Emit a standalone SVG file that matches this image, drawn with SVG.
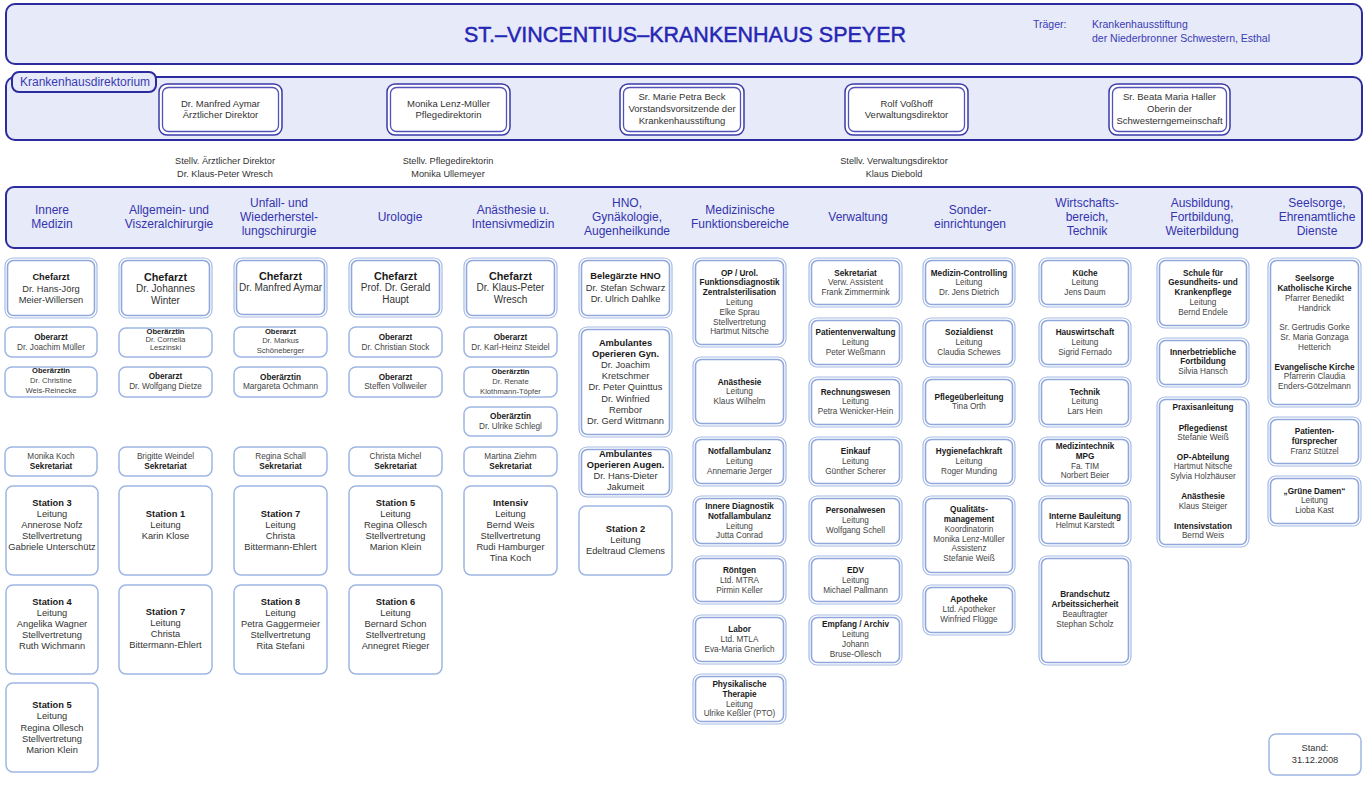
<svg xmlns="http://www.w3.org/2000/svg" width="1367" height="787" viewBox="0 0 1367 787">
<style>
text{font-family:"Liberation Sans",Arial,Helvetica,sans-serif;text-anchor:middle}
.l{text-anchor:start}
.t1{font-size:21.5px;fill:#2626b4;stroke:#2626b4;stroke-width:0.45}
.tr{font-size:10.5px;fill:#3a3ab4}
.tab{font-size:12px;fill:#3a3ab4}
.dir{font-size:9.5px;fill:#333}
.st{font-size:9.2px;fill:#333}
.hd{font-size:12px;fill:#3434ae}
.m{font-size:9.3px;fill:#333}
.ch{font-size:10px;fill:#333}
.k{font-size:8.2px;fill:#444}
.q{font-size:7.6px;fill:#444}
.b{font-weight:bold;fill:#1a1a1a}
.big{font-size:10.8px}
.bg{fill:#e7eaf8;stroke:#2c2c9e;stroke-width:2}
.bx{fill:#fff;stroke:#9fb6e4;stroke-width:1.5}
.bo{fill:#fff;stroke:#a6bbe6;stroke-width:1.2}
.bi{fill:none;stroke:#8fa7db;stroke-width:1.6}
.do{fill:#fff;stroke:#3a3aa6;stroke-width:1.5}
.di{fill:none;stroke:#5252b8;stroke-width:1.3}
</style>
<rect width="1367" height="787" fill="#fff"/>

<g id="title">
<rect class="bg" x="6" y="4" width="1356" height="60" rx="9"/>
<text class="t1" x="685" y="42">ST.–VINCENTIUS–KRANKENHAUS SPEYER</text>
<text class="tr l" x="1033" y="28">Träger:</text>
<text class="tr l" x="1092" y="28">Krankenhausstiftung</text>
<text class="tr l" x="1092" y="42">der Niederbronner Schwestern, Esthal</text>
</g>

<g id="direktorium">
<rect class="bg" x="6" y="77" width="1356" height="63" rx="9"/>
<rect class="bg" x="12" y="72" width="144" height="20" rx="7"/>
<text class="tab l" x="20" y="86">Krankenhausdirektorium</text>
</g>

<g id="dir-aymar">
<rect class="do" x="159" y="84" width="123" height="51" rx="8"/><rect class="di" x="162.5" y="87.5" width="116" height="44" rx="6"/>
<text class="dir" x="220.5" y="106.5">Dr. Manfred Aymar</text>
<text class="dir" x="220.5" y="118.3">Ärztlicher Direktor</text>
</g>
<g id="dir-lenz">
<rect class="do" x="387" y="84" width="123" height="51" rx="8"/><rect class="di" x="390.5" y="87.5" width="116" height="44" rx="6"/>
<text class="dir" x="448.5" y="106.5">Monika Lenz-Müller</text>
<text class="dir" x="448.5" y="118.3">Pflegedirektorin</text>
</g>
<g id="dir-beck">
<rect class="do" x="620" y="84" width="124" height="51" rx="8"/><rect class="di" x="623.5" y="87.5" width="117" height="44" rx="6"/>
<text class="dir" x="682" y="100">Sr. Marie Petra Beck</text>
<text class="dir" x="682" y="112">Vorstandsvorsitzende der</text>
<text class="dir" x="682" y="124">Krankenhausstiftung</text>
</g>
<g id="dir-vosshoff">
<rect class="do" x="845" y="84" width="123" height="51" rx="8"/><rect class="di" x="848.5" y="87.5" width="116" height="44" rx="6"/>
<text class="dir" x="906.5" y="106.5">Rolf Voßhoff</text>
<text class="dir" x="906.5" y="118.3">Verwaltungsdirektor</text>
</g>
<g id="dir-haller">
<rect class="do" x="1109" y="84" width="121" height="51" rx="8"/><rect class="di" x="1112.5" y="87.5" width="114" height="44" rx="6"/>
<text class="dir" x="1169.5" y="100">Sr. Beata Maria Haller</text>
<text class="dir" x="1169.5" y="112">Oberin der</text>
<text class="dir" x="1169.5" y="124">Schwesterngemeinschaft</text>
</g>

<g id="stellvertreter">
<text class="st" x="225" y="164">Stellv. Ärztlicher Direktor</text>
<text class="st" x="225" y="176.5">Dr. Klaus-Peter Wresch</text>
<text class="st" x="448" y="164">Stellv. Pflegedirektorin</text>
<text class="st" x="448" y="176.5">Monika Ullemeyer</text>
<text class="st" x="894" y="164">Stellv. Verwaltungsdirektor</text>
<text class="st" x="894" y="176.5">Klaus Diebold</text>
</g>

<g id="bereiche">
<rect class="bg" x="6" y="187" width="1356" height="61" rx="8"/>
<text class="hd" x="52" y="214.2">Innere</text><text class="hd" x="52" y="228.2">Medizin</text>
<text class="hd" x="169" y="214.2">Allgemein- und</text><text class="hd" x="169" y="228.2">Viszeralchirurgie</text>
<text class="hd" x="279" y="207.2">Unfall- und</text><text class="hd" x="279" y="221.2">Wiederherstel-</text><text class="hd" x="279" y="235.2">lungschirurgie</text>
<text class="hd" x="400" y="221.2">Urologie</text>
<text class="hd" x="513" y="214.2">Anästhesie u.</text><text class="hd" x="513" y="228.2">Intensivmedizin</text>
<text class="hd" x="627" y="207.2">HNO,</text><text class="hd" x="627" y="221.2">Gynäkologie,</text><text class="hd" x="627" y="235.2">Augenheilkunde</text>
<text class="hd" x="740" y="214.2">Medizinische</text><text class="hd" x="740" y="228.2">Funktionsbereiche</text>
<text class="hd" x="858" y="221.2">Verwaltung</text>
<text class="hd" x="970" y="214.2">Sonder-</text><text class="hd" x="970" y="228.2">einrichtungen</text>
<text class="hd" x="1087" y="207.2">Wirtschafts-</text><text class="hd" x="1087" y="221.2">bereich,</text><text class="hd" x="1087" y="235.2">Technik</text>
<text class="hd" x="1202" y="207.2">Ausbildung,</text><text class="hd" x="1202" y="221.2">Fortbildung,</text><text class="hd" x="1202" y="235.2">Weiterbildung</text>
<text class="hd" x="1317" y="207.2">Seelsorge,</text><text class="hd" x="1317" y="221.2">Ehrenamtliche</text><text class="hd" x="1317" y="235.2">Dienste</text>
</g>

<g id="connectors"/>

<!-- Column 1: Innere Medizin -->
<g id="im-chefarzt">
<rect class="bo" x="5" y="258" width="92" height="60" rx="8"/><rect class="bi" x="7.5" y="260.5" width="87" height="55" rx="6"/>
<text class="m b" x="51" y="280">Chefarzt</text><text class="m" x="51" y="291.6">Dr. Hans-Jörg</text><text class="m" x="51" y="303.3">Meier-Willersen</text>
</g>
<g id="im-oa1"><rect class="bx" x="5" y="327" width="92" height="30" rx="7"/>
<text class="k b" x="51" y="340.2">Oberarzt</text><text class="k" x="51" y="349.8">Dr. Joachim Müller</text></g>
<g id="im-oa2"><rect class="bx" x="5" y="367" width="92" height="30" rx="7"/>
<text class="q b" x="51" y="373.4">Oberärztin</text><text class="q" x="51" y="383.4">Dr. Christine</text><text class="q" x="51" y="393.4">Weis-Reinecke</text></g>
<g id="im-sek"><rect class="bx" x="5" y="447" width="92" height="29" rx="7"/>
<text class="k" x="51" y="458.6">Monika Koch</text><text class="k b" x="51" y="468.6">Sekretariat</text></g>
<g id="im-st3"><rect class="bx" x="6" y="486" width="92" height="89" rx="7"/>
<text class="m b" x="52" y="505.6">Station 3</text><text class="m" x="52" y="516.7">Leitung</text><text class="m" x="52" y="527.8">Annerose Nofz</text><text class="m" x="52" y="538.9">Stellvertretung</text><text class="m" x="52" y="550">Gabriele Unterschütz</text></g>
<g id="im-st4"><rect class="bx" x="6" y="585" width="92" height="89" rx="7"/>
<text class="m b" x="52" y="605">Station 4</text><text class="m" x="52" y="616.1">Leitung</text><text class="m" x="52" y="627.2">Angelika Wagner</text><text class="m" x="52" y="638.3">Stellvertretung</text><text class="m" x="52" y="649.4">Ruth Wichmann</text></g>
<g id="im-st5"><rect class="bx" x="6" y="683" width="92" height="89" rx="7"/>
<text class="m b" x="52" y="708.3">Station 5</text><text class="m" x="52" y="719.4">Leitung</text><text class="m" x="52" y="730.5">Regina Ollesch</text><text class="m" x="52" y="741.6">Stellvertretung</text><text class="m" x="52" y="752.7">Marion Klein</text></g>

<!-- Column 2 -->
<g id="av-chefarzt">
<rect class="bo" x="119" y="258" width="93" height="60" rx="8"/><rect class="bi" x="121.5" y="260.5" width="88" height="55" rx="6"/>
<text class="ch b big" x="165.5" y="280.5">Chefarzt</text><text class="ch" x="165.5" y="291.9">Dr. Johannes</text><text class="ch" x="165.5" y="303.5">Winter</text>
</g>
<g id="av-oa1"><rect class="bx" x="119" y="328" width="93" height="29" rx="7"/>
<text class="q b" x="165.5" y="334.4">Oberärztin</text><text class="q" x="165.5" y="342.4">Dr. Cornelia</text><text class="q" x="165.5" y="350.4">Leszinski</text></g>
<g id="av-oa2"><rect class="bx" x="119" y="367" width="93" height="30" rx="7"/>
<text class="k b" x="165.5" y="379">Oberarzt</text><text class="k" x="165.5" y="389">Dr. Wolfgang Dietze</text></g>
<g id="av-sek"><rect class="bx" x="119" y="447" width="93" height="29" rx="7"/>
<text class="k" x="165.5" y="458.6">Brigitte Weindel</text><text class="k b" x="165.5" y="468.6">Sekretariat</text></g>
<g id="av-st1"><rect class="bx" x="119" y="486" width="93" height="89" rx="7"/>
<text class="m b" x="165.5" y="516.6">Station 1</text><text class="m" x="165.5" y="527.7">Leitung</text><text class="m" x="165.5" y="538.8">Karin Klose</text></g>
<g id="av-st7"><rect class="bx" x="119" y="585" width="93" height="89" rx="7"/>
<text class="m b" x="165.5" y="615">Station 7</text><text class="m" x="165.5" y="626.1">Leitung</text><text class="m" x="165.5" y="637.2">Christa</text><text class="m" x="165.5" y="648.3">Bittermann-Ehlert</text></g>

<!-- Column 3 -->
<g id="uw-chefarzt">
<rect class="bo" x="234" y="258" width="93" height="59" rx="8"/><rect class="bi" x="236.5" y="260.5" width="88" height="54" rx="6"/>
<text class="ch b big" x="280.5" y="279.8">Chefarzt</text><text class="ch" x="280.5" y="291">Dr. Manfred Aymar</text>
</g>
<g id="uw-oa1"><rect class="bx" x="234" y="327" width="93" height="30" rx="7"/>
<text class="q b" x="280.5" y="333.7">Oberarzt</text><text class="q" x="280.5" y="343.2">Dr. Markus</text><text class="q" x="280.5" y="352.5">Schöneberger</text></g>
<g id="uw-oa2"><rect class="bx" x="234" y="367" width="93" height="30" rx="7"/>
<text class="k b" x="280.5" y="379.6">Oberärztin</text><text class="k" x="280.5" y="389.2">Margareta Ochmann</text></g>
<g id="uw-sek"><rect class="bx" x="234" y="447" width="93" height="29" rx="7"/>
<text class="k" x="280.5" y="458.6">Regina Schall</text><text class="k b" x="280.5" y="468.6">Sekretariat</text></g>
<g id="uw-st7"><rect class="bx" x="234" y="486" width="93" height="89" rx="7"/>
<text class="m b" x="280.5" y="516.6">Station 7</text><text class="m" x="280.5" y="527.7">Leitung</text><text class="m" x="280.5" y="538.8">Christa</text><text class="m" x="280.5" y="549.9">Bittermann-Ehlert</text></g>
<g id="uw-st8"><rect class="bx" x="234" y="585" width="93" height="89" rx="7"/>
<text class="m b" x="280.5" y="605">Station 8</text><text class="m" x="280.5" y="616.1">Leitung</text><text class="m" x="280.5" y="627.2">Petra Gaggermeier</text><text class="m" x="280.5" y="638.3">Stellvertretung</text><text class="m" x="280.5" y="649.4">Rita Stefani</text></g>

<!-- Column 4 -->
<g id="uro-chefarzt">
<rect class="bo" x="349" y="258" width="93" height="59" rx="8"/><rect class="bi" x="351.5" y="260.5" width="88" height="54" rx="6"/>
<text class="ch b big" x="395.5" y="279.8">Chefarzt</text><text class="ch" x="395.5" y="291">Prof. Dr. Gerald</text><text class="ch" x="395.5" y="302.5">Haupt</text>
</g>
<g id="uro-oa1"><rect class="bx" x="349" y="327" width="93" height="30" rx="7"/>
<text class="k b" x="395.5" y="340.2">Oberarzt</text><text class="k" x="395.5" y="350">Dr. Christian Stock</text></g>
<g id="uro-oa2"><rect class="bx" x="349" y="367" width="93" height="30" rx="7"/>
<text class="k b" x="395.5" y="379.6">Oberarzt</text><text class="k" x="395.5" y="389.2">Steffen Vollweiler</text></g>
<g id="uro-sek"><rect class="bx" x="349" y="447" width="93" height="29" rx="7"/>
<text class="k" x="395.5" y="458.6">Christa Michel</text><text class="k b" x="395.5" y="468.6">Sekretariat</text></g>
<g id="uro-st5"><rect class="bx" x="349" y="486" width="93" height="89" rx="7"/>
<text class="m b" x="395.5" y="505.6">Station 5</text><text class="m" x="395.5" y="516.7">Leitung</text><text class="m" x="395.5" y="527.8">Regina Ollesch</text><text class="m" x="395.5" y="538.9">Stellvertretung</text><text class="m" x="395.5" y="550">Marion Klein</text></g>
<g id="uro-st6"><rect class="bx" x="349" y="585" width="93" height="89" rx="7"/>
<text class="m b" x="395.5" y="605">Station 6</text><text class="m" x="395.5" y="616.1">Leitung</text><text class="m" x="395.5" y="627.2">Bernard Schon</text><text class="m" x="395.5" y="638.3">Stellvertretung</text><text class="m" x="395.5" y="649.4">Annegret Rieger</text></g>

<!-- Column 5 -->
<g id="an-chefarzt">
<rect class="bo" x="464" y="258" width="93" height="60" rx="8"/><rect class="bi" x="466.5" y="260.5" width="88" height="55" rx="6"/>
<text class="ch b big" x="510.5" y="279.8">Chefarzt</text><text class="ch" x="510.5" y="291">Dr. Klaus-Peter</text><text class="ch" x="510.5" y="302.5">Wresch</text>
</g>
<g id="an-oa1"><rect class="bx" x="464" y="327" width="93" height="30" rx="7"/>
<text class="k b" x="510.5" y="340.2">Oberarzt</text><text class="k" x="510.5" y="350">Dr. Karl-Heinz Steidel</text></g>
<g id="an-oa2"><rect class="bx" x="464" y="367" width="93" height="30" rx="7"/>
<text class="q b" x="510.5" y="374.2">Oberärztin</text><text class="q" x="510.5" y="384.2">Dr. Renate</text><text class="q" x="510.5" y="394.2">Klothmann-Töpfer</text></g>
<g id="an-oa3"><rect class="bx" x="464" y="407" width="93" height="29" rx="7"/>
<text class="k b" x="510.5" y="419">Oberärztin</text><text class="k" x="510.5" y="429">Dr. Ulrike Schlegl</text></g>
<g id="an-sek"><rect class="bx" x="464" y="447" width="93" height="29" rx="7"/>
<text class="k" x="510.5" y="458.6">Martina Ziehm</text><text class="k b" x="510.5" y="468.6">Sekretariat</text></g>
<g id="an-intensiv"><rect class="bx" x="464" y="486" width="93" height="89" rx="7"/>
<text class="m b" x="510.5" y="505.6">Intensiv</text><text class="m" x="510.5" y="516.7">Leitung</text><text class="m" x="510.5" y="527.8">Bernd Weis</text><text class="m" x="510.5" y="538.9">Stellvertretung</text><text class="m" x="510.5" y="550">Rudi Hamburger</text><text class="m" x="510.5" y="561.1">Tina Koch</text></g>

<!-- Column 6 -->
<g id="hno-beleg">
<rect class="bo" x="579" y="258" width="93" height="60" rx="8"/><rect class="bi" x="581.5" y="260.5" width="88" height="55" rx="6"/>
<text class="m b" x="625.5" y="279.3">Belegärzte HNO</text><text class="m" x="625.5" y="291">Dr. Stefan Schwarz</text><text class="m" x="625.5" y="302.3">Dr. Ulrich Dahlke</text>
</g>
<g id="hno-gyn">
<rect class="bo" x="579" y="327" width="93" height="110" rx="8"/><rect class="bi" x="581.5" y="329.5" width="88" height="105" rx="6"/>
<text class="m b" x="625.5" y="345.6">Ambulantes</text><text class="m b" x="625.5" y="356.8">Operieren Gyn.</text><text class="m" x="625.5" y="368">Dr. Joachim</text><text class="m" x="625.5" y="379.2">Kretschmer</text><text class="m" x="625.5" y="390.4">Dr. Peter Quinttus</text><text class="m" x="625.5" y="401.6">Dr. Winfried</text><text class="m" x="625.5" y="412.8">Rembor</text><text class="m" x="625.5" y="424">Dr. Gerd Wittmann</text>
</g>
<g id="hno-augen">
<rect class="bo" x="579" y="447" width="93" height="50" rx="8"/><rect class="bi" x="581.5" y="449.5" width="88" height="45" rx="6"/>
<text class="m b" x="625.5" y="456.6">Ambulantes</text><text class="m b" x="625.5" y="467.8">Operieren Augen.</text><text class="m" x="625.5" y="479">Dr. Hans-Dieter</text><text class="m" x="625.5" y="490.2">Jakumeit</text>
</g>
<g id="hno-st2"><rect class="bx" x="579" y="506" width="93" height="69" rx="7"/>
<text class="m b" x="625.5" y="531.6">Station 2</text><text class="m" x="625.5" y="542.7">Leitung</text><text class="m" x="625.5" y="553.8">Edeltraud Clemens</text></g>

<!-- Column 7 -->
<g id="mf-op">
<rect class="bo" x="693" y="258" width="93" height="89" rx="8"/><rect class="bi" x="695.5" y="260.5" width="88" height="84" rx="6"/>
<text class="k b" x="739.5" y="275.6">OP / Urol.</text><text class="k b" x="739.5" y="285.4">Funktionsdiagnostik</text><text class="k b" x="739.5" y="295.2">Zentralsterilisation</text><text class="k" x="739.5" y="305">Leitung</text><text class="k" x="739.5" y="314.8">Elke Sprau</text><text class="k" x="739.5" y="324.6">Stellvertretung</text><text class="k" x="739.5" y="334.4">Hartmut Nitsche</text>
</g>
<g id="mf-anaesthesie">
<rect class="bo" x="693" y="357" width="93" height="69" rx="8"/><rect class="bi" x="695.5" y="359.5" width="88" height="64" rx="6"/>
<text class="k b" x="739.5" y="384.6">Anästhesie</text><text class="k" x="739.5" y="394.4">Leitung</text><text class="k" x="739.5" y="404.2">Klaus Wilhelm</text>
</g>
<g id="mf-notfall">
<rect class="bo" x="693" y="437" width="93" height="49" rx="8"/><rect class="bi" x="695.5" y="439.5" width="88" height="44" rx="6"/>
<text class="k b" x="739.5" y="453.9">Notfallambulanz</text><text class="k" x="739.5" y="463.7">Leitung</text><text class="k" x="739.5" y="473.5">Annemarie Jerger</text>
</g>
<g id="mf-innere">
<rect class="bo" x="693" y="496" width="93" height="50" rx="8"/><rect class="bi" x="695.5" y="498.5" width="88" height="45" rx="6"/>
<text class="k b" x="739.5" y="508.9">Innere Diagnostik</text><text class="k b" x="739.5" y="518.7">Notfallambulanz</text><text class="k" x="739.5" y="528.5">Leitung</text><text class="k" x="739.5" y="538.3">Jutta Conrad</text>
</g>
<g id="mf-roentgen">
<rect class="bo" x="693" y="556" width="93" height="48" rx="8"/><rect class="bi" x="695.5" y="558.5" width="88" height="43" rx="6"/>
<text class="k b" x="739.5" y="572.9">Röntgen</text><text class="k" x="739.5" y="582.7">Ltd. MTRA</text><text class="k" x="739.5" y="592.5">Pirmin Keller</text>
</g>
<g id="mf-labor">
<rect class="bo" x="693" y="615" width="93" height="49" rx="8"/><rect class="bi" x="695.5" y="617.5" width="88" height="44" rx="6"/>
<text class="k b" x="739.5" y="632.2">Labor</text><text class="k" x="739.5" y="642">Ltd. MTLA</text><text class="k" x="739.5" y="651.8">Eva-Maria Gnerlich</text>
</g>
<g id="mf-physio">
<rect class="bo" x="693" y="674" width="93" height="50" rx="8"/><rect class="bi" x="695.5" y="676.5" width="88" height="45" rx="6"/>
<text class="k b" x="739.5" y="686.9">Physikalische</text><text class="k b" x="739.5" y="696.7">Therapie</text><text class="k" x="739.5" y="706.5">Leitung</text><text class="k" x="739.5" y="716.3">Ulrike Keßler (PTO)</text>
</g>

<!-- Column 8 -->
<g id="vw-sek">
<rect class="bo" x="809" y="258" width="93" height="49" rx="8"/><rect class="bi" x="811.5" y="260.5" width="88" height="44" rx="6"/>
<text class="k b" x="855.5" y="275.6">Sekretariat</text><text class="k" x="855.5" y="285.4">Verw. Assistent</text><text class="k" x="855.5" y="295.2">Frank Zimmermink</text>
</g>
<g id="vw-patient">
<rect class="bo" x="809" y="318" width="93" height="49" rx="8"/><rect class="bi" x="811.5" y="320.5" width="88" height="44" rx="6"/>
<text class="k b" x="855.5" y="335.2">Patientenverwaltung</text><text class="k" x="855.5" y="345">Leitung</text><text class="k" x="855.5" y="354.8">Peter Weßmann</text>
</g>
<g id="vw-rechnung">
<rect class="bo" x="809" y="377" width="93" height="50" rx="8"/><rect class="bi" x="811.5" y="379.5" width="88" height="45" rx="6"/>
<text class="k b" x="855.5" y="394.6">Rechnungswesen</text><text class="k" x="855.5" y="404.4">Leitung</text><text class="k" x="855.5" y="414.2">Petra Wenicker-Hein</text>
</g>
<g id="vw-einkauf">
<rect class="bo" x="809" y="437" width="93" height="49" rx="8"/><rect class="bi" x="811.5" y="439.5" width="88" height="44" rx="6"/>
<text class="k b" x="855.5" y="453.9">Einkauf</text><text class="k" x="855.5" y="463.7">Leitung</text><text class="k" x="855.5" y="473.5">Günther Scherer</text>
</g>
<g id="vw-personal">
<rect class="bo" x="809" y="496" width="93" height="50" rx="8"/><rect class="bi" x="811.5" y="498.5" width="88" height="45" rx="6"/>
<text class="k b" x="855.5" y="513.2">Personalwesen</text><text class="k" x="855.5" y="523">Leitung</text><text class="k" x="855.5" y="532.8">Wolfgang Schell</text>
</g>
<g id="vw-edv">
<rect class="bo" x="809" y="556" width="93" height="48" rx="8"/><rect class="bi" x="811.5" y="558.5" width="88" height="43" rx="6"/>
<text class="k b" x="855.5" y="572.9">EDV</text><text class="k" x="855.5" y="582.7">Leitung</text><text class="k" x="855.5" y="592.5">Michael Pallmann</text>
</g>
<g id="vw-empfang">
<rect class="bo" x="809" y="615" width="93" height="50" rx="8"/><rect class="bi" x="811.5" y="617.5" width="88" height="45" rx="6"/>
<text class="k b" x="855.5" y="627.2">Empfang / Archiv</text><text class="k" x="855.5" y="637">Leitung</text><text class="k" x="855.5" y="646.8">Johann</text><text class="k" x="855.5" y="656.6">Bruse-Ollesch</text>
</g>

<!-- Column 9 -->
<g id="se-controlling">
<rect class="bo" x="923" y="258" width="92" height="49" rx="8"/><rect class="bi" x="925.5" y="260.5" width="87" height="44" rx="6"/>
<text class="k b" x="969" y="275.6">Medizin-Controlling</text><text class="k" x="969" y="285.4">Leitung</text><text class="k" x="969" y="295.2">Dr. Jens Dietrich</text>
</g>
<g id="se-sozial">
<rect class="bo" x="923" y="318" width="92" height="49" rx="8"/><rect class="bi" x="925.5" y="320.5" width="87" height="44" rx="6"/>
<text class="k b" x="969" y="335.2">Sozialdienst</text><text class="k" x="969" y="345">Leitung</text><text class="k" x="969" y="354.8">Claudia Schewes</text>
</g>
<g id="se-pflege">
<rect class="bo" x="923" y="377" width="92" height="50" rx="8"/><rect class="bi" x="925.5" y="379.5" width="87" height="45" rx="6"/>
<text class="k b" x="969" y="399.6">Pflegeüberleitung</text><text class="k" x="969" y="409.4">Tina Orth</text>
</g>
<g id="se-hygiene">
<rect class="bo" x="923" y="437" width="92" height="49" rx="8"/><rect class="bi" x="925.5" y="439.5" width="87" height="44" rx="6"/>
<text class="k b" x="969" y="453.9">Hygienefachkraft</text><text class="k" x="969" y="463.7">Leitung</text><text class="k" x="969" y="473.5">Roger Munding</text>
</g>
<g id="se-qm">
<rect class="bo" x="923" y="496" width="92" height="79" rx="8"/><rect class="bi" x="925.5" y="498.5" width="87" height="74" rx="6"/>
<text class="k b" x="969" y="512.2">Qualitäts-</text><text class="k b" x="969" y="522">management</text><text class="k" x="969" y="531.8">Koordinatorin</text><text class="k" x="969" y="541.6">Monika Lenz-Müller</text><text class="k" x="969" y="551.4">Assistenz</text><text class="k" x="969" y="561.2">Stefanie Weiß</text>
</g>
<g id="se-apotheke">
<rect class="bo" x="923" y="585" width="92" height="50" rx="8"/><rect class="bi" x="925.5" y="587.5" width="87" height="45" rx="6"/>
<text class="k b" x="969" y="602.2">Apotheke</text><text class="k" x="969" y="612">Ltd. Apotheker</text><text class="k" x="969" y="621.8">Winfried Flügge</text>
</g>

<!-- Column 10 -->
<g id="wt-kueche">
<rect class="bo" x="1039" y="258" width="92" height="49" rx="8"/><rect class="bi" x="1041.5" y="260.5" width="87" height="44" rx="6"/>
<text class="k b" x="1085" y="275.6">Küche</text><text class="k" x="1085" y="285.4">Leitung</text><text class="k" x="1085" y="295.2">Jens Daum</text>
</g>
<g id="wt-haus">
<rect class="bo" x="1039" y="318" width="92" height="49" rx="8"/><rect class="bi" x="1041.5" y="320.5" width="87" height="44" rx="6"/>
<text class="k b" x="1085" y="335.2">Hauswirtschaft</text><text class="k" x="1085" y="345">Leitung</text><text class="k" x="1085" y="354.8">Sigrid Fernado</text>
</g>
<g id="wt-technik">
<rect class="bo" x="1039" y="377" width="92" height="50" rx="8"/><rect class="bi" x="1041.5" y="379.5" width="87" height="45" rx="6"/>
<text class="k b" x="1085" y="394.6">Technik</text><text class="k" x="1085" y="404.4">Leitung</text><text class="k" x="1085" y="414.2">Lars Hein</text>
</g>
<g id="wt-medtech">
<rect class="bo" x="1039" y="437" width="92" height="49" rx="8"/><rect class="bi" x="1041.5" y="439.5" width="87" height="44" rx="6"/>
<text class="k b" x="1085" y="448.9">Medizintechnik</text><text class="k b" x="1085" y="458.7">MPG</text><text class="k" x="1085" y="468.5">Fa. TIM</text><text class="k" x="1085" y="478.3">Norbert Beier</text>
</g>
<g id="wt-bau">
<rect class="bo" x="1039" y="496" width="92" height="50" rx="8"/><rect class="bi" x="1041.5" y="498.5" width="87" height="45" rx="6"/>
<text class="k b" x="1085" y="518.6">Interne Bauleitung</text><text class="k" x="1085" y="528.4">Helmut Karstedt</text>
</g>
<g id="wt-brand">
<rect class="bo" x="1039" y="556" width="92" height="109" rx="8"/><rect class="bi" x="1041.5" y="558.5" width="87" height="104" rx="6"/>
<text class="k b" x="1085" y="597.2">Brandschutz</text><text class="k b" x="1085" y="607">Arbeitssicherheit</text><text class="k" x="1085" y="616.8">Beauftragter</text><text class="k" x="1085" y="626.6">Stephan Scholz</text>
</g>

<!-- Column 11 -->
<g id="ab-schule">
<rect class="bo" x="1157" y="258" width="92" height="70" rx="8"/><rect class="bi" x="1159.5" y="260.5" width="87" height="65" rx="6"/>
<text class="k b" x="1203" y="275.6">Schule für</text><text class="k b" x="1203" y="285.4">Gesundheits- und</text><text class="k b" x="1203" y="295.2">Krankenpflege</text><text class="k" x="1203" y="305">Leitung</text><text class="k" x="1203" y="314.8">Bernd Endele</text>
</g>
<g id="ab-ibf">
<rect class="bo" x="1157" y="338" width="92" height="49" rx="8"/><rect class="bi" x="1159.5" y="340.5" width="87" height="44" rx="6"/>
<text class="k b" x="1203" y="354.6">Innerbetriebliche</text><text class="k b" x="1203" y="364.4">Fortbildung</text><text class="k" x="1203" y="374.2">Silvia Hansch</text>
</g>
<g id="ab-praxis">
<rect class="bo" x="1157" y="397" width="92" height="150" rx="8"/><rect class="bi" x="1159.5" y="399.5" width="87" height="145" rx="6"/>
<text class="k b" x="1203" y="409.6">Praxisanleitung</text>
<text class="k b" x="1203" y="430.6">Pflegedienst</text><text class="k" x="1203" y="440.4">Stefanie Weiß</text>
<text class="k b" x="1203" y="459.6">OP-Abteilung</text><text class="k" x="1203" y="469.4">Hartmut Nitsche</text><text class="k" x="1203" y="479.2">Sylvia Holzhäuser</text>
<text class="k b" x="1203" y="498.9">Anästhesie</text><text class="k" x="1203" y="508.7">Klaus Steiger</text>
<text class="k b" x="1203" y="528.6">Intensivstation</text><text class="k" x="1203" y="538.4">Bernd Weis</text>
</g>

<!-- Column 12 -->
<g id="ss-seelsorge">
<rect class="bo" x="1268" y="258" width="93" height="149" rx="8"/><rect class="bi" x="1270.5" y="260.5" width="88" height="144" rx="6"/>
<text class="k b" x="1314.5" y="281.2">Seelsorge</text><text class="k b" x="1314.5" y="291">Katholische Kirche</text><text class="k" x="1314.5" y="300.8">Pfarrer Benedikt</text><text class="k" x="1314.5" y="310.6">Handrick</text>
<text class="k" x="1314.5" y="330.2">Sr. Gertrudis Gorke</text><text class="k" x="1314.5" y="340">Sr. Maria Gonzaga</text><text class="k" x="1314.5" y="349.8">Hetterich</text>
<text class="k b" x="1314.5" y="369.6">Evangelische Kirche</text><text class="k" x="1314.5" y="379.4">Pfarrerin Claudia</text><text class="k" x="1314.5" y="389.2">Enders-Götzelmann</text>
</g>
<g id="ss-patienten">
<rect class="bo" x="1268" y="417" width="93" height="49" rx="8"/><rect class="bi" x="1270.5" y="419.5" width="88" height="44" rx="6"/>
<text class="k b" x="1314.5" y="433.9">Patienten-</text><text class="k b" x="1314.5" y="443.7">fürsprecher</text><text class="k" x="1314.5" y="453.5">Franz Stützel</text>
</g>
<g id="ss-gruene">
<rect class="bo" x="1268" y="476" width="93" height="50" rx="8"/><rect class="bi" x="1270.5" y="478.5" width="88" height="45" rx="6"/>
<text class="k b" x="1314.5" y="493.6">„Grüne Damen“</text><text class="k" x="1314.5" y="503.4">Leitung</text><text class="k" x="1314.5" y="513.2">Lioba Kast</text>
</g>
<g id="stand"><rect class="bx" x="1269" y="734" width="92" height="41" rx="7"/>
<text class="m" x="1315" y="751">Stand:</text><text class="m" x="1315" y="763">31.12.2008</text></g>
</svg>
